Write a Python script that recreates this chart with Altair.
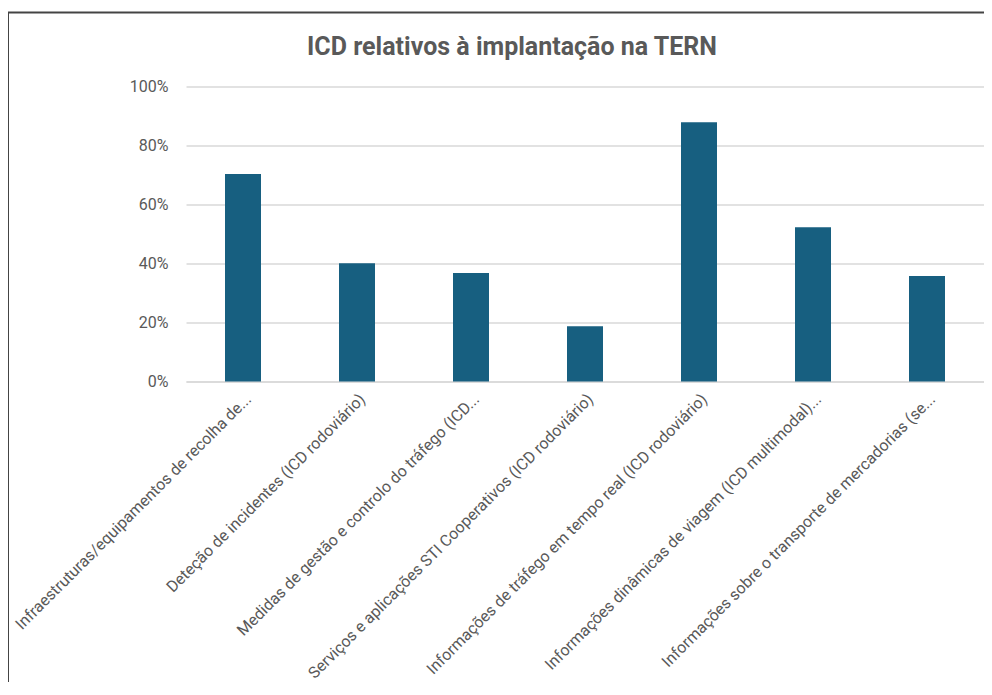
import altair as alt
import pandas as pd

title_text = "ICD relativos à implantação na TERN"
categories = [
    "Infraestruturas/equipamentos de recolha de...",
    "Deteção de incidentes (ICD rodoviário)",
    "Medidas de gestão e controlo do tráfego (ICD...",
    "Serviços e aplicações STI Cooperativos (ICD rodoviário)",
    "Informações de tráfego em tempo real (ICD rodoviário)",
    "Informações dinâmicas de viagem (ICD multimodal)...",
    "Informações sobre o transporte de mercadorias (se...",
]
values = [0.703, 0.401, 0.368, 0.187, 0.879, 0.523, 0.358]

df = pd.DataFrame({"cat": categories, "val": values})
title_df = pd.DataFrame({"t": [title_text]})

FONT = "Roboto"
GREY = "#595959"

bars = alt.Chart(df).mark_bar(color="#175f80", size=36).encode(
    x=alt.X("cat:N", sort=None, title=None,
            scale=alt.Scale(paddingInner=0.68, paddingOuter=0.34),
            axis=alt.Axis(labelAngle=-45, labelAlign="right", labelBaseline="top",
                          labelPadding=9, labelFontSize=16, labelColor=GREY,
                          labelFont=FONT, labelLimit=500, ticks=False,
                          domain=True, domainColor="#d9d9d9", domainWidth=1.5,
                          labelOverlap=False)),
    y=alt.Y("val:Q", title=None,
            scale=alt.Scale(domain=[0, 1]),
            axis=alt.Axis(format=".0%", values=[0, 0.2, 0.4, 0.6, 0.8, 1.0],
                          labelFontSize=16, labelColor=GREY, labelFont=FONT,
                          labelPadding=18, ticks=False, domain=False,
                          gridColor="#d9d9d9", gridWidth=1.5)),
)

title_mark = alt.Chart(title_df).mark_text(
    font=FONT, fontSize=25, fontWeight="bold", color=GREY,
    align="center", baseline="alphabetic",
).encode(x=alt.value(326), y=alt.value(-31.5), text="t:N")

border_left = alt.Chart(title_df).mark_rule(color="#444444", strokeWidth=2).encode(
    x=alt.value(-178), y=alt.value(-74), y2=alt.value(700)
)
border_top = alt.Chart(title_df).mark_rule(color="#444444", strokeWidth=2).encode(
    x=alt.value(-178), x2=alt.value(820), y=alt.value(-74)
)

chart = alt.layer(bars, title_mark, border_left, border_top).properties(
    width=798,
    height=295,
    autosize=alt.AutoSizeParams(type="none"),
    padding={"left": 178, "top": 78.5, "right": 0, "bottom": 300},
).configure_view(stroke=None)

chart.save("out.html", embed_options={"renderer": "svg", "actions": False})
